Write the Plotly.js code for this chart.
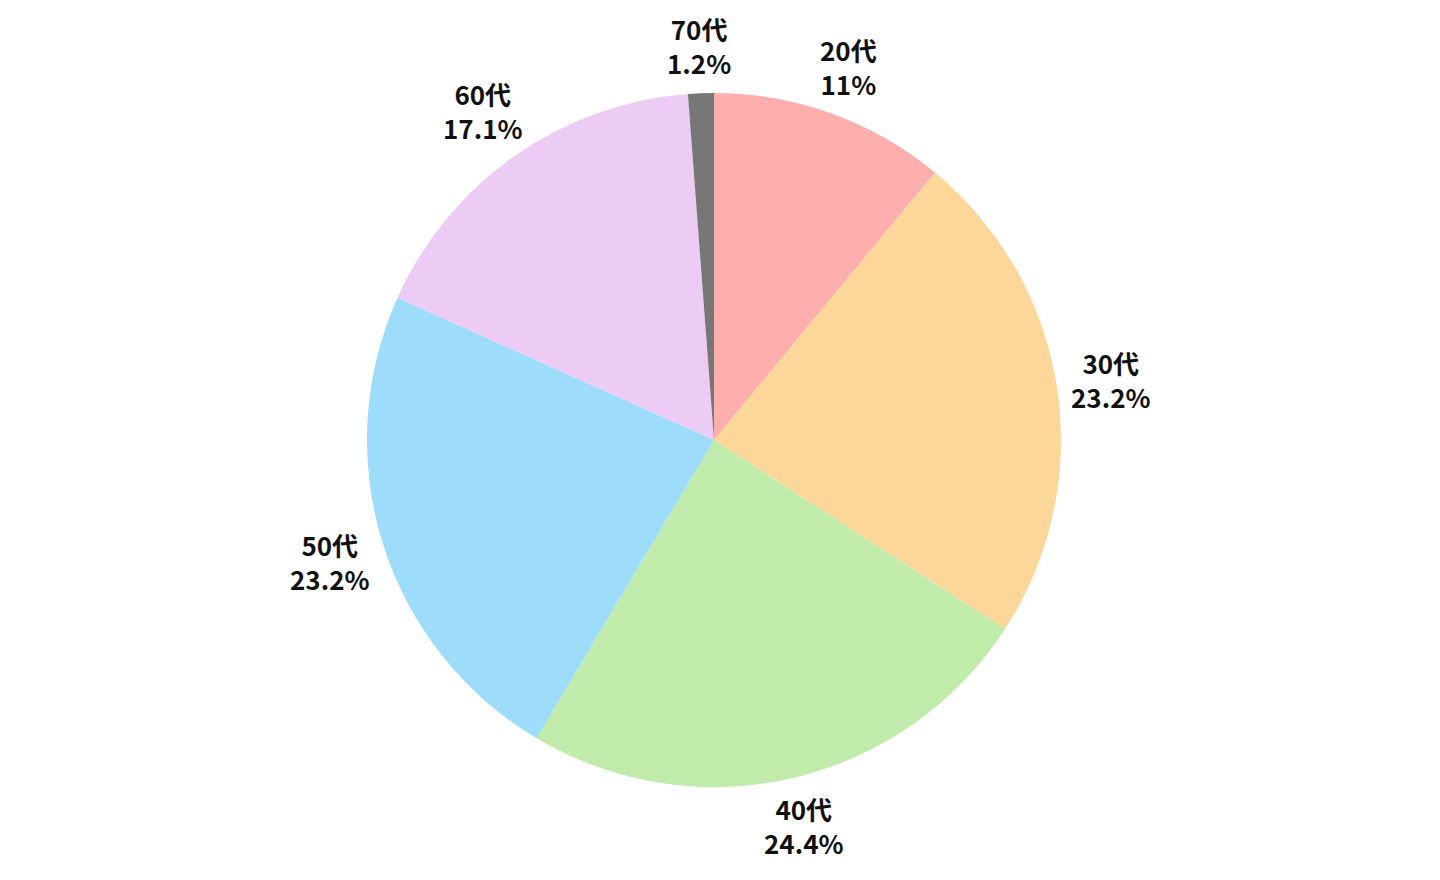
<!DOCTYPE html>
<html>
<head>
<meta charset="utf-8">
<script src="https://cdn.plot.ly/plotly-3.0.1.min.js"></script>
<style>html,body{margin:0;padding:0;background:#fff;}#chart{width:1440px;height:880px;}</style>
</head>
<body>
<div id="chart"></div>
<script>
const categories = ["20代", "30代", "40代", "50代", "60代", "70代"];
const shares = [11, 23.2, 24.4, 23.2, 17.1, 1.2];
const colors = ["#FFAEAE", "#FDD699", "#C1EBAA", "#9DDCFB", "#ECCBF4", "#777777"];

const W = 1440, H = 880;
const margin = {l: 367, r: 379, t: 93, b: 93};
const plotW = W - margin.l - margin.r;
const plotH = H - margin.t - margin.b;
const R = Math.min(plotW, plotH) / 2;
const FONT = "Noto Sans CJK JP, Noto Sans, sans-serif";
const FS = 26;
const LINE = FS * 1.3;
const OFFSET = 14;

const ctx = document.createElement("canvas").getContext("2d");
ctx.font = "bold " + FS + "px 'Noto Sans CJK JP'";

const total = shares.reduce((a, b) => a + b, 0);
let cum = 0;
const annotations = categories.map((cat, i) => {
  const mid = (cum + shares[i] / 2) / total * 2 * Math.PI;
  cum += shares[i];
  const line1 = cat, line2 = shares[i] + "%";
  const w = Math.max(ctx.measureText(line1).width, ctx.measureText(line2).width);
  const h = 2 * LINE;
  const sx = Math.sin(mid), sy = Math.cos(mid);
  const t = Math.min(Math.abs(sx) > 1e-6 ? (w / 2) / Math.abs(sx) : Infinity,
                     Math.abs(sy) > 1e-6 ? (h / 2) / Math.abs(sy) : Infinity);
  const d = R + OFFSET + t;
  return {
    xref: "paper", yref: "paper",
    x: 0.5 + d * sx / plotW,
    y: 0.5 + d * sy / plotH,
    xanchor: "center", yanchor: "middle",
    text: line1 + "<br>" + line2,
    showarrow: false,
    align: "center",
    font: {family: FONT, size: FS, color: "#111111", weight: "bold"}
  };
});

Plotly.newPlot("chart", [{
  type: "pie",
  labels: categories,
  values: shares,
  sort: false,
  direction: "clockwise",
  rotation: 0,
  marker: {colors: colors, line: {width: 0}},
  textinfo: "none",
  hoverinfo: "label+percent",
  showlegend: false
}], {
  width: W, height: H,
  margin: margin,
  paper_bgcolor: "#fff",
  plot_bgcolor: "#fff",
  annotations: annotations
}, {displayModeBar: false});
</script>
</body>
</html>
